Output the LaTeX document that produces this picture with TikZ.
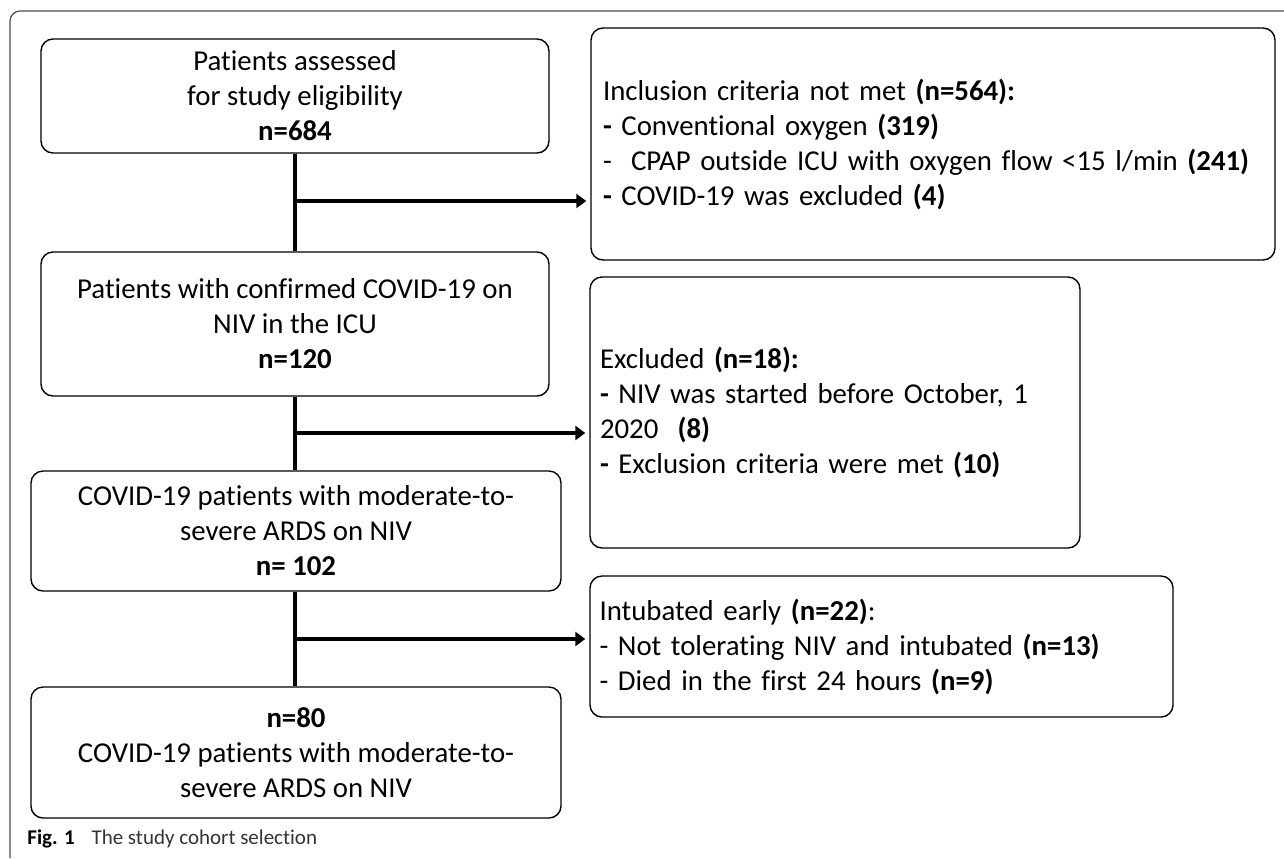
\documentclass[tikz,border=0pt]{standalone}
\usepackage{fontspec}
\setmainfont{Carlito}[Ligatures=NoCommon]
\usetikzlibrary{arrows.meta}
\begin{document}
\begin{tikzpicture}[x=0.5pt, y=-0.5pt, line join=round,
	font=\fontsize{14.4}{17.5}\selectfont,
	box/.style={draw, fill=white, line width=0.7pt, rounded corners=6pt, align=center, inner sep=3pt},
	side/.style={box, align=left, anchor=center},
	link/.style={line width=1.6pt},
	arr/.style={link, -{Triangle[length=5pt, width=7pt]}}]
	\useasboundingbox (0,0) rectangle (1284,858);
	% frame of the figure
	\draw[black!70, line width=0.6pt, rounded corners=5pt] (10,858) -- (10,11) -- (1290,11);
	% main stream
	\node[box, minimum width=254pt, minimum height=57pt] (b1) at (295,96)
		{Patients assessed\\ for study eligibility\\ \textbf{n=684}};
	\node[box, minimum width=254pt, minimum height=72pt] (b2) at (295,324)
		{Patients with confirmed COVID-19 on\\ NIV in the ICU\\ \textbf{n=120}};
	\node[box, minimum width=265pt, minimum height=60pt] (b3) at (296,531)
		{COVID-19 patients with moderate-to-\\ severe ARDS on NIV\\ \textbf{n= 102}};
	\node[box, minimum width=265pt, minimum height=65.5pt] (b4) at (296,752.5)
		{\textbf{n=80}\\ COVID-19 patients with moderate-to-\\ severe ARDS on NIV};
	% excluded patients
	\node[side, minimum width=342pt, minimum height=116pt, text width=330pt, inner xsep=6pt] (r1) at (933,144)
		{Inclusion criteria not met \textbf{(n=564):}\\
		\textbf{-} Conventional oxygen \textbf{(319)}\\
		-\ \ CPAP outside ICU with oxygen flow <15 l/min \textbf{(241)}\\
		\textbf{-} COVID-19 was excluded \textbf{(4)}};
	\node[side, minimum width=245pt, minimum height=135.5pt, text width=235pt, inner xsep=5pt] (r2) at (835,412.5)
		{Excluded \textbf{(n=18):}\\
		\textbf{-} NIV was started before October, 1\\
		2020\ \ \textbf{(8)}\\
		\textbf{-} Exclusion criteria were met \textbf{(10)}};
	\node[side, minimum width=291.5pt, minimum height=70.5pt, text width=282pt, inner xsep=4.5pt] (r3) at (881.5,646.5)
		{Intubated early \textbf{(n=22)}:\\
		- Not tolerating NIV and intubated \textbf{(n=13)}\\
		- Died in the first 24 hours \textbf{(n=9)}};
	% connectors
	\coordinate (j1) at (295,201);
	\coordinate (j2) at (295,433);
	\coordinate (j3) at (295,639);
	\draw[link] (b1) -- (b2);
	\draw[link] (b2) -- (b2 |- b3.north);
	\draw[link] (b3.south -| b2) -- (b2 |- b4.north);
	\draw[arr] (j1) -- ([xshift=-2pt]j1 -| r1.west);
	\draw[arr] (j2) -- ([xshift=-2pt]j2 -| r2.west);
	\draw[arr] (j3) -- ([xshift=-2pt]j3 -| r3.west);
	% caption
	\node[anchor=west, inner sep=0pt, font=\fontsize{10.5}{12}\selectfont] (cap) at (27,839)
		{\textbf{Fig. 1}\hspace{0.8em}{\color{black!80}The study cohort selection}};
\end{tikzpicture}
\end{document}
